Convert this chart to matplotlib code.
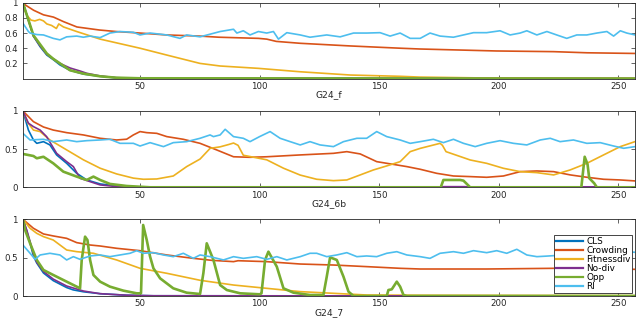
import matplotlib
matplotlib.use("Agg")
import matplotlib.pyplot as plt

# ---------------- data ----------------
series_names = ["CLS", "Crowding", "Fitnessdiv", "No-div", "Opp", "RI"]
panel_labels = ["G24_f", "G24_6b", "G24_7"]
x_ticks = [50, 100, 150, 200, 250]

# ---- panel 1 : G24_f ----
f_cls_x = [1, 3, 5.4, 8.2, 11, 13.7, 16.5, 20.7, 26.3, 33.3, 40, 50, 260]
f_cls_y = [1.0, 0.8, 0.56, 0.42, 0.31, 0.25, 0.18, 0.11, 0.06, 0.03, 0.01, 0.003, 0.0]
f_crowd_x = [1, 2, 5.5, 9.6, 13.8, 18, 23.6, 33, 40, 50, 61, 75, 83, 99.5, 103, 107, 117, 138, 159, 167, 199, 223, 237, 260]
f_crowd_y = [1.0, 0.97, 0.90, 0.84, 0.81, 0.75, 0.68, 0.64, 0.62, 0.60, 0.575, 0.56, 0.545, 0.53, 0.52, 0.49, 0.465, 0.43, 0.40, 0.39, 0.364, 0.355, 0.34, 0.33]
f_fit_x = [1, 1.7, 3, 4.4, 6, 8, 9.6, 11, 13, 15, 16, 18, 23.5, 33.3, 50, 61.2, 75.1, 83.5, 99.5, 117, 138, 159, 167, 190, 260]
f_fit_y = [1.0, 0.9, 0.82, 0.77, 0.76, 0.78, 0.76, 0.72, 0.70, 0.66, 0.72, 0.68, 0.62, 0.52, 0.40, 0.31, 0.20, 0.166, 0.135, 0.09, 0.047, 0.03, 0.02, 0.01, 0.005]
f_nodiv_x = [1, 3, 5.4, 8.2, 11, 13.7, 16.5, 20.7, 24.9, 27.7, 33.3, 40, 50, 260]
f_nodiv_y = [1.0, 0.8, 0.56, 0.43, 0.32, 0.26, 0.20, 0.14, 0.10, 0.07, 0.035, 0.012, 0.003, 0.0]
f_opp_x = [1, 2.5, 5.4, 8.2, 11, 13.7, 16.5, 20.7, 26.3, 33.3, 40, 50, 260]
f_opp_y = [1.0, 0.85, 0.57, 0.45, 0.33, 0.26, 0.20, 0.11, 0.065, 0.03, 0.012, 0.004, 0.0]
f_ri_x = [1, 3.3, 4, 6.8, 9.6, 13.7, 16.5, 19.3, 23.5, 26.3, 29.1, 33.3, 37.4, 41.6, 47.2, 50, 54.2, 61.2, 66.7, 69.5, 75.1, 83.5, 89.1, 90.5, 93.2, 96, 99.5, 103, 105.8, 107.9, 111.4, 117, 121.1, 128.1, 133.7, 139.3, 144.8, 150.4, 154.6, 158.8, 163, 167.2, 171.3, 175.5, 181.1, 185.3, 189.5, 195, 200.6, 204.8, 209, 211.8, 216, 220.2, 224.3, 228.5, 232.7, 236.9, 241.1, 245.3, 248.1, 250.9, 253.6, 257.1, 260]
f_ri_y = [0.73, 0.62, 0.60, 0.58, 0.575, 0.53, 0.51, 0.55, 0.56, 0.545, 0.56, 0.54, 0.60, 0.62, 0.61, 0.575, 0.60, 0.575, 0.53, 0.575, 0.55, 0.62, 0.65, 0.60, 0.63, 0.575, 0.62, 0.60, 0.62, 0.52, 0.605, 0.575, 0.545, 0.575, 0.55, 0.60, 0.60, 0.605, 0.56, 0.60, 0.53, 0.53, 0.60, 0.56, 0.545, 0.575, 0.605, 0.605, 0.63, 0.575, 0.60, 0.63, 0.575, 0.62, 0.575, 0.53, 0.575, 0.575, 0.60, 0.62, 0.56, 0.63, 0.60, 0.575, 0.58]

# ---- panel 2 : G24_6b ----
b_cls_x = [1, 3.3, 5.4, 6.8, 9.6, 12.3, 15.1, 19.3, 23.5, 27.7, 33.3, 40.2, 50, 260]
b_cls_y = [1.0, 0.75, 0.62, 0.576, 0.598, 0.555, 0.424, 0.314, 0.183, 0.096, 0.044, 0.017, 0.003, 0.0]
b_crowd_x = [1, 5.4, 9.6, 13.7, 19.3, 26.3, 33.3, 40.2, 44.4, 47.2, 50, 52.8, 57, 61.2, 68.1, 75.1, 82.1, 89.1, 96, 103, 117, 130.9, 136.5, 142.1, 149, 156, 161.6, 167.2, 174.1, 181.1, 188.1, 195, 202, 209, 216, 223, 230, 237, 243.9, 250.9, 257.2, 260]
b_crowd_y = [1.0, 0.86, 0.79, 0.75, 0.716, 0.686, 0.642, 0.62, 0.63, 0.686, 0.73, 0.716, 0.707, 0.664, 0.629, 0.576, 0.489, 0.40, 0.393, 0.40, 0.424, 0.445, 0.467, 0.437, 0.336, 0.30, 0.271, 0.236, 0.183, 0.148, 0.14, 0.131, 0.148, 0.205, 0.214, 0.205, 0.162, 0.131, 0.105, 0.096, 0.083, 0.08]
b_fit_x = [1, 3, 5.4, 8.2, 12.3, 19.3, 26.3, 33.3, 40.2, 47.2, 51.4, 57, 63.9, 69.5, 75.1, 79.3, 83.5, 87, 89.1, 91, 93.2, 103, 110, 117, 123.9, 130.9, 136.5, 142.1, 147.6, 153.2, 158.8, 163, 167.2, 175.5, 176.5, 178, 188.1, 195, 202, 209, 216, 223, 229.9, 236.9, 243.9, 250.9, 257.2, 260]
b_fit_y = [1.0, 0.85, 0.75, 0.73, 0.62, 0.49, 0.36, 0.25, 0.175, 0.12, 0.105, 0.109, 0.148, 0.271, 0.37, 0.51, 0.53, 0.56, 0.58, 0.55, 0.42, 0.36, 0.25, 0.16, 0.105, 0.087, 0.096, 0.162, 0.227, 0.28, 0.336, 0.467, 0.51, 0.576, 0.55, 0.467, 0.358, 0.314, 0.249, 0.205, 0.192, 0.162, 0.227, 0.314, 0.424, 0.533, 0.60, 0.61]
b_nodiv_x = [1, 3.3, 5.4, 8.2, 10.9, 15.1, 19.3, 22.1, 24.9, 29.1, 33.3, 40.2, 50, 175, 177, 186, 188, 233, 235, 240, 242, 260]
b_nodiv_y = [1.0, 0.84, 0.795, 0.75, 0.664, 0.445, 0.336, 0.271, 0.118, 0.074, 0.031, 0.009, 0.002, 0.0, 0.008, 0.008, 0.0, 0.0, 0.006, 0.006, 0.0, 0.0]
b_opp_x = [1, 5.4, 6.8, 9.6, 13.7, 17.9, 23.5, 27.7, 30.5, 33.3, 37.4, 44.4, 54.2, 175.8, 176.9, 183.9, 185.3, 188.1, 234.6, 236.0, 237.2, 237.9, 240, 241.1, 260]
b_opp_y = [0.437, 0.41, 0.38, 0.40, 0.314, 0.205, 0.14, 0.096, 0.14, 0.096, 0.044, 0.017, 0.0, 0.0, 0.096, 0.096, 0.087, 0.0, 0.0, 0.40, 0.30, 0.12, 0.052, 0.0, 0.0]
b_ri_x = [1, 4, 9.6, 13.7, 19.3, 23.5, 27.7, 33.3, 37.4, 41.6, 47.2, 50, 54.2, 59.8, 63.9, 69.5, 75.1, 79.3, 80.7, 83.5, 85.6, 89.1, 93.2, 96, 100, 104.4, 108.6, 112.8, 117, 121.1, 125.3, 130.9, 135.1, 140.7, 144.8, 149, 153.2, 158.8, 163, 167.2, 172.7, 176.9, 181.1, 185.3, 190.2, 195, 200.6, 206.2, 211.8, 217.4, 221.6, 225.7, 231.3, 236.9, 242.5, 248.1, 252.3, 257.1, 260]
b_ri_y = [0.707, 0.62, 0.629, 0.598, 0.62, 0.598, 0.611, 0.62, 0.629, 0.576, 0.576, 0.541, 0.585, 0.533, 0.585, 0.598, 0.642, 0.686, 0.664, 0.686, 0.76, 0.664, 0.642, 0.598, 0.664, 0.73, 0.642, 0.598, 0.555, 0.598, 0.555, 0.533, 0.598, 0.642, 0.642, 0.73, 0.664, 0.62, 0.576, 0.598, 0.629, 0.585, 0.629, 0.576, 0.533, 0.576, 0.611, 0.576, 0.555, 0.62, 0.642, 0.598, 0.62, 0.576, 0.585, 0.541, 0.511, 0.533, 0.54]

# ---- panel 3 : G24_7 ----
s_cls_x = [1, 2.6, 4, 5.4, 6.8, 9.6, 13.7, 19.3, 22, 26.3, 33.3, 44.4, 55.6, 260]
s_cls_y = [1.0, 0.85, 0.69, 0.52, 0.43, 0.30, 0.20, 0.11, 0.08, 0.055, 0.03, 0.01, 0.003, 0.0]
s_crowd_x = [1, 5.4, 9.6, 13.7, 19.3, 23.5, 29.1, 33.3, 40.2, 50, 61.2, 72.3, 80, 89.1, 91, 103, 117, 130.9, 144.8, 158.8, 167.2, 195, 223, 257, 260]
s_crowd_y = [1.0, 0.883, 0.809, 0.783, 0.752, 0.696, 0.665, 0.652, 0.622, 0.591, 0.535, 0.491, 0.465, 0.448, 0.46, 0.448, 0.417, 0.404, 0.383, 0.361, 0.352, 0.352, 0.361, 0.348, 0.348]
s_fit_x = [1, 4, 6.8, 9.6, 13.7, 19.3, 23.5, 30.5, 40.2, 50, 61.2, 75.1, 89.1, 103, 117, 130.9, 144.8, 167, 260]
s_fit_y = [1.0, 0.883, 0.817, 0.774, 0.73, 0.60, 0.578, 0.557, 0.47, 0.361, 0.296, 0.205, 0.143, 0.10, 0.057, 0.035, 0.013, 0.01, 0.005]
s_nodiv_x = [1, 2.6, 4, 5.4, 6.8, 9.6, 13.7, 19.3, 26.3, 33.3, 44.4, 55.6, 260]
s_nodiv_y = [1.0, 0.86, 0.71, 0.55, 0.44, 0.32, 0.22, 0.13, 0.065, 0.03, 0.01, 0.003, 0.0]
s_opp_x = [1, 1.9, 4, 6.8, 9.6, 13.7, 19.3, 23.5, 24.9, 25.6, 27.0, 28.0, 29.1, 30.5, 33.3, 37.4, 43, 48.6, 50.4, 51.3, 52.8, 54.2, 55.6, 58.4, 63.9, 69.5, 75.1, 76.5, 77.9, 80.7, 83.5, 86.3, 91.9, 100.1, 100.8, 102.3, 103.7, 107.2, 110, 114.2, 121.1, 126.7, 128.1, 129.5, 132.3, 135.1, 137.2, 139.3, 153.2, 153.9, 155.3, 157.4, 158.8, 160.2, 161.6, 260]
s_opp_y = [1.0, 0.861, 0.687, 0.47, 0.339, 0.274, 0.187, 0.122, 0.10, 0.47, 0.774, 0.73, 0.47, 0.274, 0.187, 0.122, 0.07, 0.035, 0.035, 0.926, 0.73, 0.513, 0.361, 0.23, 0.10, 0.043, 0.026, 0.30, 0.687, 0.47, 0.143, 0.078, 0.035, 0.022, 0.035, 0.47, 0.578, 0.383, 0.10, 0.043, 0.013, 0.013, 0.252, 0.504, 0.47, 0.252, 0.057, 0.0, 0.0, 0.078, 0.087, 0.187, 0.122, 0.013, 0.0, 0.0]
s_ri_x = [1, 4, 6.1, 8.2, 12.3, 16.5, 19.3, 22.1, 24.9, 29.1, 33.3, 37.4, 41.6, 45.8, 48.6, 51.4, 55.6, 59.8, 63.9, 68.1, 72.3, 75.1, 79.3, 84.9, 89.1, 93.2, 98.8, 103, 107.2, 111.4, 117, 121.1, 123.9, 128.1, 132.3, 136.5, 140.7, 144.8, 149, 153.2, 157.4, 161.6, 167.2, 171.3, 175.5, 181.1, 185.3, 189.5, 195, 199.2, 203.4, 207.6, 211.8, 216, 220, 230, 240, 250, 253.6, 257, 260]
s_ri_y = [0.665, 0.557, 0.478, 0.535, 0.557, 0.535, 0.47, 0.513, 0.478, 0.522, 0.535, 0.513, 0.535, 0.557, 0.591, 0.557, 0.565, 0.535, 0.513, 0.557, 0.491, 0.535, 0.513, 0.47, 0.513, 0.491, 0.513, 0.478, 0.513, 0.47, 0.513, 0.557, 0.557, 0.513, 0.535, 0.565, 0.513, 0.522, 0.513, 0.557, 0.578, 0.535, 0.513, 0.491, 0.557, 0.578, 0.557, 0.591, 0.565, 0.591, 0.557, 0.609, 0.535, 0.513, 0.52, 0.54, 0.52, 0.55, 0.578, 0.57, 0.57]

colors = ["#0072BD", "#D95319", "#EDB120", "#7E2F8E", "#77AC30", "#4DBEEE"]

panels = [
    [(f_cls_x, f_cls_y), (f_crowd_x, f_crowd_y), (f_fit_x, f_fit_y),
     (f_nodiv_x, f_nodiv_y), (f_opp_x, f_opp_y), (f_ri_x, f_ri_y)],
    [(b_cls_x, b_cls_y), (b_crowd_x, b_crowd_y), (b_fit_x, b_fit_y),
     (b_nodiv_x, b_nodiv_y), (b_opp_x, b_opp_y), (b_ri_x, b_ri_y)],
    [(s_cls_x, s_cls_y), (s_crowd_x, s_crowd_y), (s_fit_x, s_fit_y),
     (s_nodiv_x, s_nodiv_y), (s_opp_x, s_opp_y), (s_ri_x, s_ri_y)],
]
y_ticks = [[0.2, 0.4, 0.6, 0.8, 1], [0, 0.5, 1], [0, 0.5, 1]]
y_ticklabels = [["0.2", "0.4", "0.6", "0.8", "1"], ["0", "0.5", "1"], ["0", "0.5", "1"]]

# ---------------- figure ----------------
plt.rcParams["font.family"] = ["DejaVu Sans"]
fig = plt.figure(figsize=(6.4, 3.19), dpi=100)
fig.patch.set_facecolor("white")

positions = [
    [0.0358, 0.7536, 0.9562, 0.238],
    [0.0358, 0.4129, 0.9562, 0.2392],
    [0.0358, 0.0721, 0.9562, 0.2404],
]
grey = "#262626"
for i, pos in enumerate(positions):
    ax = fig.add_axes(pos)
    for j, (xs, ys) in enumerate(panels[i]):
        lw = 1.9 if j == 4 else 1.2
        ax.plot(xs, ys, color=colors[j], lw=lw, label=series_names[j],
                solid_joinstyle="round")
    ax.set_xlim(1, 257)
    ax.set_ylim(0, 1)
    ax.set_xticks(x_ticks)
    ax.set_xticklabels([str(t) for t in x_ticks])
    ax.set_yticks(y_ticks[i])
    ax.set_yticklabels(y_ticklabels[i])
    ax.tick_params(direction="in", top=True, right=True, length=3, width=0.5,
                   colors=grey, labelsize=6.2, labelcolor=grey)
    ax.tick_params(axis="y", pad=3.8)
    ax.tick_params(axis="x", pad=2.4)
    for sp in ax.spines.values():
        sp.set_color(grey)
        sp.set_linewidth(0.6)
    ax.set_xlabel(panel_labels[i], fontsize=6.6, color=grey, labelpad=-0.5)
    if i == 2:
        leg = ax.legend(loc="lower right", bbox_to_anchor=(0.996, 0.035),
                        borderaxespad=0, fontsize=6.4, labelspacing=0.0,
                        handlelength=3.0, handletextpad=0.4, borderpad=0.22,
                        fancybox=False, framealpha=1, edgecolor=grey)
        leg.get_frame().set_linewidth(0.6)
        for line in leg.get_lines():
            line.set_linewidth(1.6)

fig.savefig("out.png", dpi=100, facecolor="white")
